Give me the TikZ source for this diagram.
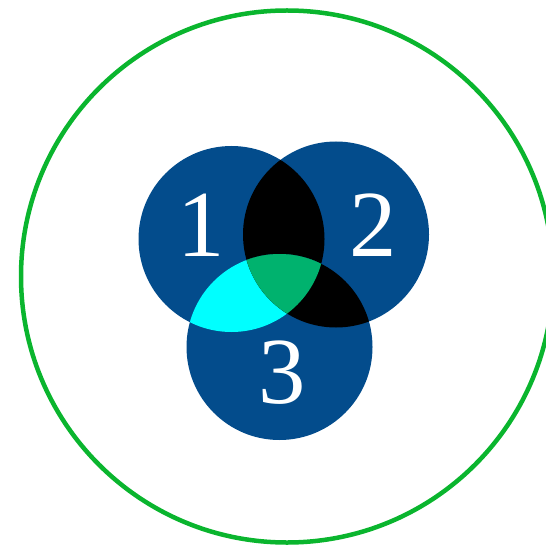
\documentclass[tikz,border=0pt]{standalone}
\usepackage{fontspec}
\setmainfont{Liberation Serif}
\definecolor{vblue}{HTML}{034C8C}
\definecolor{vgreen}{HTML}{00B26E}
\definecolor{vcyan}{HTML}{00FFFF}
\definecolor{ring}{HTML}{0AB52E}
\begin{document}
\begin{tikzpicture}[x=1bp,y=-1bp,
  digit/.style={text=white,font=\fontsize{95}{95}\selectfont,inner sep=0pt}]
\useasboundingbox (0,0) rectangle (546,546);
\def\ca{(231.5,239) circle[radius=93]}
\def\cb{(336,234.5) circle[radius=93]}
\def\cc{(279.5,347) circle[radius=93]}
\begin{scope}
\clip (0,0) rectangle (546,546);
\draw[ring,line width=4.5bp] (287,276.5) circle[radius=266];
\end{scope}
\fill[vblue] \ca;
\fill[vblue] \cb;
\fill[vblue] \cc;
\begin{scope}\clip \ca; \fill[black] \cb; \end{scope}
\begin{scope}\clip \ca; \fill[vcyan] \cc; \end{scope}
\begin{scope}\clip \cb; \fill[black] \cc; \end{scope}
\begin{scope}\clip \ca; \clip \cb; \fill[vgreen] \cc; \end{scope}
\node[digit] (one) at (201,225) {1};
\node[digit] (two) at (373,225) {2};
\node[digit] (three) at (282,373) {3};
\end{tikzpicture}
\end{document}
